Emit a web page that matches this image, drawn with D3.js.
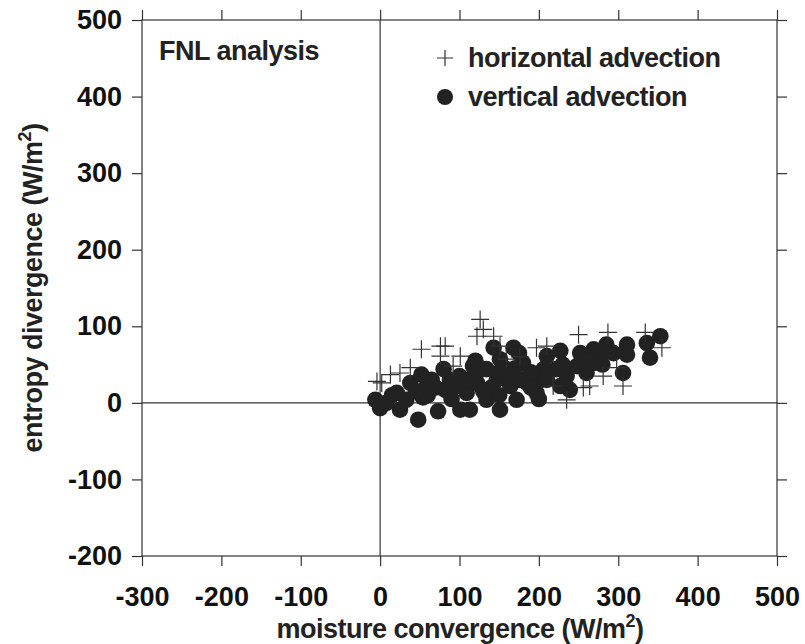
<!DOCTYPE html>
<html><head><meta charset="utf-8">
<script src="https://cdn.jsdelivr.net/npm/d3@7"></script>
<style>body{margin:0;background:#fff}svg{font-family:"Liberation Sans",Arial,sans-serif;font-weight:bold}</style>
</head><body><svg id="chart" width="805" height="644"></svg>
<script>
const xTicks = [-300, -200, -100, 0, 100, 200, 300, 400, 500];
const yTicks = [-200, -100, 0, 100, 200, 300, 400, 500];

const horizontalX = [-4, 2, 13, 25, 38, 52, 76, 82, 76, 126, 130, 122, 143, 197, 250, 287, 334, 355, 281, 306, 235, 256, 218, 264, 298, 101, 92, 151, 159, 210, 176];
const horizontalY = [28, 26, 37, 39, 46, 70, 74, 74, 61, 109, 96, 87, 87, 72, 89, 92, 92, 72, 35, 22, 4, 20, 22, 22, 46, 61, 48, 74, 57, 74, 60];

const verticalX = [-6, 0, 25, 48, 21, 38, 52, 54, 73, 80, 82, 101, 113, 97, 117, 122, 134, 143, 151, 147, 159, 168, 172, 180, 197, 206, 210, 227, 235, 239, 252, 260, 269, 285, 306, 311, 311, 336, 340, 353, 126, 164, 185, 222, 248, 277, 109, 88, 59, 33, 8, 202, 176, 151, 134, 227, 269, 294, 160, 140, 190, 120, 100, 70, 200, 150,
  60, 90, 130, 110, 150, 170, 190, 210, 230, 260, 280, 120, 100, 175, 45, 15, 65];
const verticalY = [4, -7, -9, -22, 13, 26, 37, 7, -11, 44, 17, -9, -9, 22, 48, 26, 4, 72, -9, 30, 44, 72, 4, 52, 13, 44, 61, 68, 35, 17, 65, 39, 52, 76, 39, 76, 63, 78, 59, 87, 44, 22, 26, 44, 48, 61, 13, 30, 22, 4, 0, 30, 30, 57, 44, 22, 70, 65, 35, 20, 20, 35, 35, 20, 5, 10,
  10, 5, 15, 30, 40, 45, 40, 30, 50, 55, 50, 55, 25, 65, 15, 10, 30];

const svg = d3.select("#chart");
const mLeft = 142, mRight = 777, mTop = 20, mBottom = 556;

const x = d3.scaleLinear().domain([-300, 500]).range([mLeft, mRight]);
const y = d3.scaleLinear().domain([-200, 500]).range([mBottom, mTop]);

const axisStyle = g => {
  g.select(".domain").remove();
  g.selectAll(".tick line").attr("stroke", "#333").attr("stroke-width", 1.2);
  g.selectAll("text").attr("font-size", 27).attr("font-weight", "bold").attr("fill", "#111")
    .attr("font-family", "'Liberation Sans', Arial, sans-serif");
};
const fmt = d => String(d);

svg.append("g").attr("transform", `translate(0,${mBottom})`)
  .call(d3.axisBottom(x).tickValues(xTicks).tickSize(10).tickPadding(21).tickFormat(fmt))
  .call(axisStyle);
svg.append("g").attr("transform", `translate(0,${mTop})`)
  .call(d3.axisTop(x).tickValues(xTicks).tickSize(10).tickFormat(""))
  .call(axisStyle);
svg.append("g").attr("transform", `translate(${mLeft},0)`)
  .call(d3.axisLeft(y).tickValues(yTicks).tickSize(10).tickPadding(10).tickFormat(fmt))
  .call(axisStyle);
svg.append("g").attr("transform", `translate(${mRight},0)`)
  .call(d3.axisRight(y).tickValues(yTicks).tickSize(10).tickFormat(""))
  .call(axisStyle);

svg.append("rect").attr("x", mLeft).attr("y", mTop).attr("width", mRight - mLeft).attr("height", mBottom - mTop)
  .attr("fill", "none").attr("stroke", "#333").attr("stroke-width", 1.2);
svg.append("line").attr("x1", x(0)).attr("x2", x(0)).attr("y1", mTop).attr("y2", mBottom).attr("stroke", "#333").attr("stroke-width", 1.2);
svg.append("line").attr("x1", mLeft).attr("x2", mRight).attr("y1", y(0)).attr("y2", y(0)).attr("stroke", "#333").attr("stroke-width", 1.2);

svg.append("g").selectAll("circle")
  .data(verticalX.map((v, i) => [v, verticalY[i]]))
  .enter().append("circle")
  .attr("cx", d => x(d[0])).attr("cy", d => y(d[1])).attr("r", 8.3).attr("fill", "#222");

svg.append("g").selectAll("path")
  .data(horizontalX.map((v, i) => [v, horizontalY[i]]))
  .enter().append("path")
  .attr("transform", d => `translate(${x(d[0])},${y(d[1])})`)
  .attr("d", "M-9,0H9M0,-9V9")
  .attr("stroke", "#333").attr("stroke-width", 1.2).attr("fill", "none");

svg.append("text").attr("x", 159).attr("y", 60).attr("font-size", 27).attr("letter-spacing", -0.5).attr("fill", "#222").text("FNL analysis");

svg.append("path").attr("d", "M437,58H453M445,50V66").attr("stroke", "#333").attr("stroke-width", 1.2);
svg.append("text").attr("x", 468).attr("y", 67).attr("font-size", 27).attr("letter-spacing", -0.5).attr("fill", "#222").text("horizontal advection");
svg.append("circle").attr("cx", 445).attr("cy", 97).attr("r", 8).attr("fill", "#222");
svg.append("text").attr("x", 468).attr("y", 106).attr("font-size", 27).attr("letter-spacing", -0.5).attr("fill", "#222").text("vertical advection");

const xl = svg.append("text").attr("x", 460).attr("y", 638).attr("text-anchor", "middle")
  .attr("font-size", 27).attr("letter-spacing", -0.5).attr("fill", "#222");
xl.append("tspan").text("moisture convergence (W/m");
xl.append("tspan").attr("dy", -11).attr("font-size", 18).text("2");
xl.append("tspan").attr("dy", 11).text(")");

const yl = svg.append("text").attr("transform", `translate(42,${(mTop + mBottom) / 2}) rotate(-90)`)
  .attr("text-anchor", "middle").attr("font-size", 27).attr("letter-spacing", -0.5).attr("fill", "#222");
yl.append("tspan").text("entropy divergence (W/m");
yl.append("tspan").attr("dy", -11).attr("font-size", 18).text("2");
yl.append("tspan").attr("dy", 11).text(")");
</script></body></html>
